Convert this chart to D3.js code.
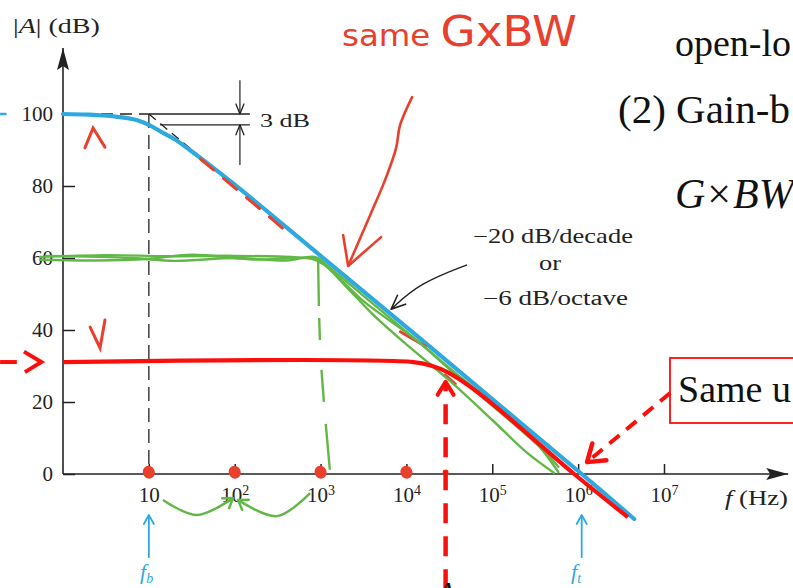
<!DOCTYPE html>
<html><head><meta charset="utf-8">
<script src="https://cdn.jsdelivr.net/npm/d3@7"></script>
<style>
html,body{margin:0;padding:0;background:#fff;overflow:hidden}
svg{display:block}
</style></head><body>
<svg id="chart" width="793" height="588"></svg>
<script>
// ---- data (frequency in Hz, gain in dB) ----
const xTickValues = [10, 1e2, 1e3, 1e4, 1e5, 1e6, 1e7];
const yTickValues = [0, 20, 40, 60, 80, 100];

// open-loop response
const openLoopFreq = [1, 2, 4, 7, 10, 15, 20, 30, 50, 100, 1000, 1e4, 1e5, 1.1e6, 4.5e6];
const openLoopGain = [100, 99.8, 99.3, 98.4, 97, 94.6, 93, 90, 86, 80.4, 60.6, 40.8, 20.8, 0, -12.5];

// closed-loop response at ~31 dB
const lowGainFreq = [1, 1.2e4, 2e4, 3e4, 5e4, 1e5, 9e5, 3.8e6];
const lowGainGain = [31.1, 31.1, 30, 28.3, 25, 19.5, 0, -12];

// hand-drawn 60 dB closed-loop traces
const greenAFreq = [0.54, 3.2, 16, 100, 500, 930, 1580, 3160, 1e4, 31600, 1e5, 316000, 589000];
const greenAGain = [60.3, 60.8, 60.5, 60.6, 60.2, 59.5, 55.5, 49.5, 39.5, 29.5, 19.5, 9, 0.5];
const greenBFreq = [0.54, 2.5, 10, 32, 160, 790, 1120, 2000, 4000, 1e4, 31600, 1e5, 251000, 525000];
const greenBGain = [59.5, 59.3, 59.8, 60.9, 59.6, 59.8, 58, 52, 44.5, 36, 26, 15, 6, 0.3];
const greenCFreq = [0.63, 6.3, 20, 100, 400, 890, 1410, 3160, 12600, 40000, 158000, 398000, 589000];
const greenCGain = [60.6, 60.0, 59.2, 60.0, 59.3, 60.2, 56, 48, 37.5, 27, 15, 6.5, 2];
const greenDropFreq = [935, 1000, 1290];
const greenDropGain = [60, 33, 0.5];

// axis extents
const yAxisTop = 118.3;
const xAxisEnd = 2.8e8;

// ---- scales ----
const svg = d3.select("#chart");
const x = d3.scaleLog().domain([1, 1e7]).range([63, 664]);
const y = d3.scaleLinear().domain([0, 100]).range([474, 114]);
const zip = (fs, gs) => fs.map((f, i) => [f, gs[i]]);
const line = d3.line().x(d => x(d[0])).y(d => y(d[1]));
const smooth = d3.line().x(d => x(d[0])).y(d => y(d[1])).curve(d3.curveCatmullRom.alpha(0.5));
const curve = d3.line().x(d => x(d[0])).y(d => y(d[1])).curve(d3.curveBasis);

const INK = "#222", BLUE = "#2ea9e0", RED = "#fb0f0c", PEN = "#e8402c", GREEN = "#62b847";
const SERIF = "'Liberation Serif','Times New Roman',serif";

// ---- markers ----
const defs = svg.append("defs");
function chevron(id, color, len, half, sw) {
  defs.append("marker").attr("id", id)
    .attr("viewBox", `0 0 ${len} ${half * 2}`).attr("refX", len).attr("refY", half)
    .attr("markerUnits", "userSpaceOnUse").attr("markerWidth", len).attr("markerHeight", half * 2)
    .attr("orient", "auto").attr("overflow", "visible")
    .append("path").attr("d", `M0,0 L${len},${half} L0,${half * 2}`)
    .attr("fill", "none").attr("stroke", color).attr("stroke-width", sw)
    .attr("stroke-linecap", "round").attr("stroke-linejoin", "round");
}
chevron("inkArrow", INK, 10, 4, 1.3);
chevron("inkArrowBig", INK, 14, 6, 1.6);
chevron("blueArrow", BLUE, 9, 5, 1.8);
chevron("redArrow", RED, 13, 8, 4);
chevron("redArrowBig", RED, 16, 11, 4.5);
chevron("greenArrow", GREEN, 9, 6, 2.5);
defs.append("marker").attr("id", "axisHead")
  .attr("viewBox", "0 0 22 12").attr("refX", 22).attr("refY", 6)
  .attr("markerUnits", "userSpaceOnUse").attr("markerWidth", 22).attr("markerHeight", 12)
  .attr("orient", "auto")
  .append("path").attr("d", "M0,0 L22,6 L0,12 L4,6 Z").attr("fill", INK);

// ---- axes ----
const gy = svg.append("g").attr("transform", `translate(${x(1)},0)`)
  .call(d3.axisLeft(y).tickValues(yTickValues).tickSizeInner(-12).tickSizeOuter(0).tickPadding(10));
gy.select(".domain").remove();
gy.selectAll(".tick line").attr("stroke", INK).attr("stroke-width", 1.5);
gy.selectAll(".tick text").attr("font-family", SERIF).attr("font-size", 21).attr("fill", INK);

const gx = svg.append("g").attr("transform", `translate(0,${y(0)})`)
  .call(d3.axisBottom(x).tickValues(xTickValues).tickSizeInner(-10).tickSizeOuter(0).tickPadding(13));
gx.select(".domain").remove();
gx.selectAll(".tick line").attr("stroke", INK).attr("stroke-width", 1.5);
gx.selectAll(".tick text").attr("font-family", SERIF).attr("font-size", 21).attr("fill", INK)
  .each(function (d) {
    const e = Math.round(Math.log10(d));
    const t = d3.select(this).text(null);
    t.append("tspan").text("10");
    if (e > 1) t.append("tspan").attr("dy", "-0.5em").attr("font-size", 14).text(e);
  });

svg.append("path").attr("d", line([[1, 0], [1, yAxisTop]]))
  .attr("stroke", INK).attr("stroke-width", 1.6).attr("marker-end", "url(#axisHead)");
svg.append("path").attr("d", line([[1, 0], [xAxisEnd, 0]]))
  .attr("stroke", INK).attr("stroke-width", 1.6).attr("marker-end", "url(#axisHead)");

// text helper: squeeze/stretch a start-anchored label to a given width
function fit(sel, w) {
  const n = sel.node().getComputedTextLength();
  const x0 = +sel.attr("x"), y0 = +sel.attr("y");
  sel.attr("x", 0).attr("y", 0).attr("transform", `translate(${x0},${y0}) scale(${w / n},1)`);
  return sel;
}

// axis titles
const yt = svg.append("text").attr("x", 13).attr("y", 33).attr("font-family", SERIF)
  .attr("font-size", 21).attr("fill", INK);
yt.append("tspan").text("|");
yt.append("tspan").attr("font-style", "italic").text("A");
yt.append("tspan").text("| (dB)");
fit(yt, 87);
const xt = svg.append("text").attr("x", 725).attr("y", 505).attr("font-family", SERIF)
  .attr("font-size", 21).attr("fill", INK);
xt.append("tspan").attr("font-style", "italic").text("f");
xt.append("tspan").text(" (Hz)");
fit(xt, 63);

// ---- asymptotes and 3 dB marker ----
svg.append("path").attr("d", line([[1, 100], [10, 100]])).attr("stroke", INK)
  .attr("stroke-width", 1.3).attr("stroke-dasharray", "12,7");
svg.append("path").attr("d", line([[10, 100], [45, 87]])).attr("stroke", INK)
  .attr("stroke-width", 1.3).attr("stroke-dasharray", "9,6");
svg.append("path").attr("d", line([[10, 100], [10, 0]])).attr("stroke", INK)
  .attr("stroke-width", 1.3).attr("stroke-dasharray", "14,7");
svg.append("path").attr("d", line([[10, 100], [150, 100]])).attr("stroke", INK).attr("stroke-width", 1.3);
svg.append("path").attr("d", line([[13.5, 97], [150, 97]])).attr("stroke", INK).attr("stroke-width", 1.3);
svg.append("path").attr("d", line([[115, 109.4], [115, 100]])).attr("stroke", INK)
  .attr("stroke-width", 1.2).attr("marker-end", "url(#inkArrow)");
svg.append("path").attr("d", line([[115, 85.8], [115, 97]])).attr("stroke", INK)
  .attr("stroke-width", 1.2).attr("marker-end", "url(#inkArrow)");
fit(svg.append("text").attr("x", 260).attr("y", 127).attr("font-family", SERIF)
  .attr("font-size", 19).attr("fill", INK).text("3 dB"), 50);

// ---- slope note ----
fit(svg.append("text").attr("x", 473).attr("y", 243).attr("font-family", SERIF)
  .attr("font-size", 20).attr("fill", INK).text("\u221220 dB/decade"), 160);
fit(svg.append("text").attr("x", 539).attr("y", 270).attr("font-family", SERIF)
  .attr("font-size", 20).attr("fill", INK).text("or"), 22);
fit(svg.append("text").attr("x", 483).attr("y", 305).attr("font-family", SERIF)
  .attr("font-size", 20).attr("fill", INK).text("\u22126 dB/octave"), 145);
svg.append("path").attr("d", curve([[50900, 58.1], [14400, 53.1], [6640, 45.8]]))
  .attr("fill", "none").attr("stroke", INK).attr("stroke-width", 1.4)
  .attr("marker-end", "url(#inkArrowBig)");

// ---- curves ----
svg.append("path").attr("d", smooth(zip(openLoopFreq, openLoopGain)))
  .attr("fill", "none").attr("stroke", BLUE).attr("stroke-width", 4.2).attr("stroke-linecap", "round");
svg.append("path").attr("d", line([[0.185, 100], [0.22, 100]]))
  .attr("stroke", BLUE).attr("stroke-width", 2.5);

// pen dashes traced along the roll-off
svg.append("path").attr("d", smooth([[40, 87.5], [100, 79.5], [200, 73.5], [450, 66.3]]))
  .attr("fill", "none").attr("stroke", PEN).attr("stroke-width", 3)
  .attr("stroke-dasharray", "17,13").attr("stroke-linecap", "round");
svg.append("path").attr("d", line([[8500, 39.5], [16600, 35.5]]))
  .attr("stroke", PEN).attr("stroke-width", 3).attr("stroke-linecap", "round");
svg.append("path").attr("d", line([[28000, 27.5], [37000, 25]]))
  .attr("stroke", PEN).attr("stroke-width", 3).attr("stroke-linecap", "round");

[[greenAFreq, greenAGain], [greenBFreq, greenBGain], [greenCFreq, greenCGain]].forEach(([f, g]) => {
  svg.append("path").attr("d", smooth(zip(f, g)))
    .attr("fill", "none").attr("stroke", GREEN).attr("stroke-width", 2.4)
    .attr("stroke-linecap", "round").attr("stroke-linejoin", "round");
});
svg.append("path").attr("d", smooth(zip(greenDropFreq, greenDropGain)))
  .attr("fill", "none").attr("stroke", GREEN).attr("stroke-width", 2.4)
  .attr("stroke-dasharray", "48,12,22,30,32,22,46");

svg.append("path").attr("d", smooth(zip(lowGainFreq, lowGainGain)))
  .attr("fill", "none").attr("stroke", RED).attr("stroke-width", 4.2).attr("stroke-linecap", "butt");

// ---- pen marks ----
// decade dots on the frequency axis
const dotFreq = [10, 100, 1000, 1e4];
svg.selectAll(".dot").data(dotFreq).enter().append("ellipse")
  .attr("cx", d => x(d)).attr("cy", y(0.5)).attr("rx", 6).attr("ry", 6.5)
  .attr("transform", d => `rotate(-25,${x(d)},${y(0.5)})`).attr("fill", PEN);
svg.append("circle").attr("cx", x(28600)).attr("cy", y(0.4)).attr("r", 3).attr("fill", PEN);

// decade hops between the dots
svg.append("path").attr("d", smooth([[14.6, -7.2], [36, -11.4], [95.7, -6.7]]))
  .attr("fill", "none").attr("stroke", GREEN).attr("stroke-width", 2.5).attr("marker-end", "url(#greenArrow)");
svg.append("path").attr("d", smooth([[755, -5.3], [311, -11.7], [109, -7.2]]))
  .attr("fill", "none").attr("stroke", GREEN).attr("stroke-width", 2.5).attr("marker-end", "url(#greenArrow)");

// small ticks next to the two plateaus
svg.append("path").attr("d", line([[1.8, 90.6], [2.24, 96.1], [3.08, 90.8]]))
  .attr("fill", "none").attr("stroke", PEN).attr("stroke-width", 3).attr("stroke-linecap", "round");
svg.append("path").attr("d", line([[2.07, 40.8], [2.7, 35.0], [3.08, 42.8]]))
  .attr("fill", "none").attr("stroke", PEN).attr("stroke-width", 3).attr("stroke-linecap", "round");

// incoming pointer at the 31 dB level
svg.append("path").attr("d", line([[0.185, 31.1], [0.29, 31.1]]))
  .attr("stroke", RED).attr("stroke-width", 4);
svg.append("path").attr("d", line([[0.351, 34], [0.56, 31.1], [0.36, 28.3]]))
  .attr("fill", "none").attr("stroke", RED).attr("stroke-width", 4).attr("stroke-linejoin", "miter");

// bandwidth of the low-gain stage
svg.append("path").attr("d", line([[28600, -32], [28600, 25.6]]))
  .attr("stroke", RED).attr("stroke-width", 4.5).attr("stroke-dasharray", "20,13")
  .attr("marker-end", "url(#redArrow)");
svg.append("text").attr("x", 436).attr("y", 604).attr("font-family", SERIF)
  .attr("font-size", 32).attr("font-style", "italic").attr("fill", "#111").text("A");

// corner frequencies
[[10, "b", 140], [1.1e6, "t", 571]].forEach(([f, sub, tx]) => {
  svg.append("path").attr("d", line([[f, -23.3], [f, -11.4]]))
    .attr("stroke", BLUE).attr("stroke-width", 1.8).attr("marker-end", "url(#blueArrow)");
  const t = svg.append("text").attr("x", tx).attr("y", 579).attr("font-family", SERIF)
    .attr("font-size", 22).attr("fill", BLUE).attr("font-style", "italic");
  t.append("tspan").text("f");
  t.append("tspan").attr("dy", 4).attr("font-size", 14).text(sub);
});

// "same G×BW" note with its pointer
const note = svg.append("text").attr("x", 342).attr("y", 46)
  .attr("font-family", "'DejaVu Sans',sans-serif").attr("fill", PEN);
note.append("tspan").attr("font-size", 30).text("same ");
note.append("tspan").attr("font-size", 42).text("GxBW");
fit(note, 235);
svg.append("path").attr("d", smooth([[11640, 104.7], [8430, 96.9], [7590, 90.6], [5650, 81.7], [3780, 71.9], [2094, 57.8]]))
  .attr("fill", "none").attr("stroke", PEN).attr("stroke-width", 2.6).attr("stroke-linecap", "round");
svg.append("path").attr("d", line([[5070, 65.8], [2094, 57.8], [1830, 66.4]]))
  .attr("fill", "none").attr("stroke", PEN).attr("stroke-width", 2.6)
  .attr("stroke-linecap", "round").attr("stroke-linejoin", "round");

// ---- side notes ----
const big = (tx, ty, s, fs) => svg.append("text").attr("x", tx).attr("y", ty)
  .attr("font-family", SERIF).attr("font-size", fs).attr("fill", "#111").text(s);
big(675, 56, "open-lo", 38);
big(618, 123, "(2) Gain-b", 41);
const gbw = svg.append("text").attr("x", 675).attr("y", 208).attr("font-family", SERIF)
  .attr("font-size", 42).attr("fill", "#111");
gbw.append("tspan").attr("font-style", "italic").text("G");
gbw.append("tspan").attr("dx", 2).text("\u00d7");
gbw.append("tspan").attr("dx", 2).attr("font-style", "italic").text("BW");

svg.append("rect").attr("x", 670).attr("y", 358).attr("width", 140).attr("height", 65)
  .attr("fill", "#fff").attr("stroke", RED).attr("stroke-width", 1.8);
svg.append("text").attr("x", 678).attr("y", 402).attr("font-family", SERIF)
  .attr("font-size", 38).attr("fill", "#111").text("Same u");
svg.append("path").attr("d", line([[1.18e7, 22.5], [1.27e6, 3.3]]))
  .attr("stroke", RED).attr("stroke-width", 4).attr("stroke-dasharray", "13,9")
  .attr("marker-end", "url(#redArrowBig)");
</script>
</body></html>
